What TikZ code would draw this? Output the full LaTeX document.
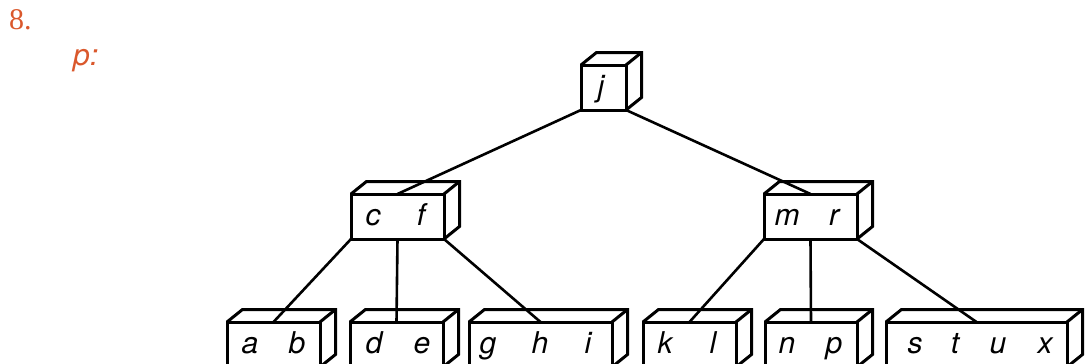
\documentclass[tikz,border=0pt]{standalone}
\usepackage{fontspec}
\setmainfont{Liberation Serif}
\newfontfamily\keyfont{TeX Gyre Heros}
\usetikzlibrary{calc}
\definecolor{accent}{RGB}{218,88,44}
\tikzset{
  box/.style={draw, line width=3pt, minimum height=45pt, inner sep=0pt, outer sep=0pt, anchor=north west},
  edge/.style={line width=3pt},
  link/.style={line width=2.6pt},
  key/.style={anchor=base, inner sep=0pt, font=\keyfont\itshape\fontsize{30}{36}\selectfont},
  label/.style={anchor=base west, inner sep=0pt, text=accent},
}
\newcommand\depthfaces[1]{%
  \draw[edge] (#1.north west) -- ++(15.5,-12.5) -- ($(#1.north east)+(15.5,-12.5)$)
     -- ($(#1.south east)+(15.5,-12.5)$) -- (#1.south east);
  \draw[edge] (#1.north east) -- ($(#1.north east)+(15.5,-12.5)$);}
\begin{document}
\begin{tikzpicture}[x=1pt,y=-1pt]
\clip (0,0) rectangle (1085,364);
% labels
\node[label, font=\fontsize{30}{36}\selectfont] (num) at (9,30) {8.};
\node[label, font=\keyfont\itshape\fontsize{30}{36}\selectfont] (pl) at (73,65) {p:};
% boxes
\node[box, minimum width=45pt] (j) at (581,65) {};
\node[box, minimum width=93pt] (cf) at (351,194) {};
\node[box, minimum width=93pt] (mr) at (764,194) {};
\node[box, minimum width=93pt] (ab) at (227,322) {};
\node[box, minimum width=93pt] (de) at (350,322) {};
\node[box, minimum width=143pt] (ghi) at (469,322) {};
\node[box, minimum width=93pt] (kl) at (643,322) {};
\node[box, minimum width=92pt] (np) at (765,322) {};
\node[box, minimum width=181pt] (stux) at (886,322) {};
\foreach \b in {j,cf,mr,ab,de,ghi,kl,np,stux}{\depthfaces{\b}}
% keys
\node[key] (kj) at (601,96) {j};
\node[key] (kc) at (373,225) {c};
\node[key] (kf) at (421,225) {f};
\node[key] (km) at (787,225) {m};
\node[key] (kr) at (834,225) {r};
\node[key] (ka) at (250,353) {a};
\node[key] (kb) at (297,353) {b};
\node[key] (kd) at (374,353) {d};
\node[key] (ke) at (422,353) {e};
\node[key] (kg) at (488,353) {g};
\node[key] (kh) at (540,353) {h};
\node[key] (ki) at (588,353) {i};
\node[key] (kk) at (665,353) {k};
\node[key] (kl2) at (713,353) {l};
\node[key] (kn) at (787,353) {n};
\node[key] (kp) at (834,353) {p};
\node[key] (ks) at (915,353) {s};
\node[key] (kt) at (955,353) {t};
\node[key] (ku) at (998,353) {u};
\node[key] (kx) at (1045,353) {x};
% links
\draw[link] (j.south west) -- (cf.north);
\draw[link] (j.south east) -- (mr.north);
\draw[link] (cf.south west) -- (ab.north);
\draw[link] (cf.south) -- (de.north);
\draw[link] (cf.south east) -- (ghi.north);
\draw[link] (mr.south west) -- (kl.north);
\draw[link] (mr.south) -- (np.north);
\draw[link] (mr.south east) -- (stux.north);
\end{tikzpicture}
\end{document}
